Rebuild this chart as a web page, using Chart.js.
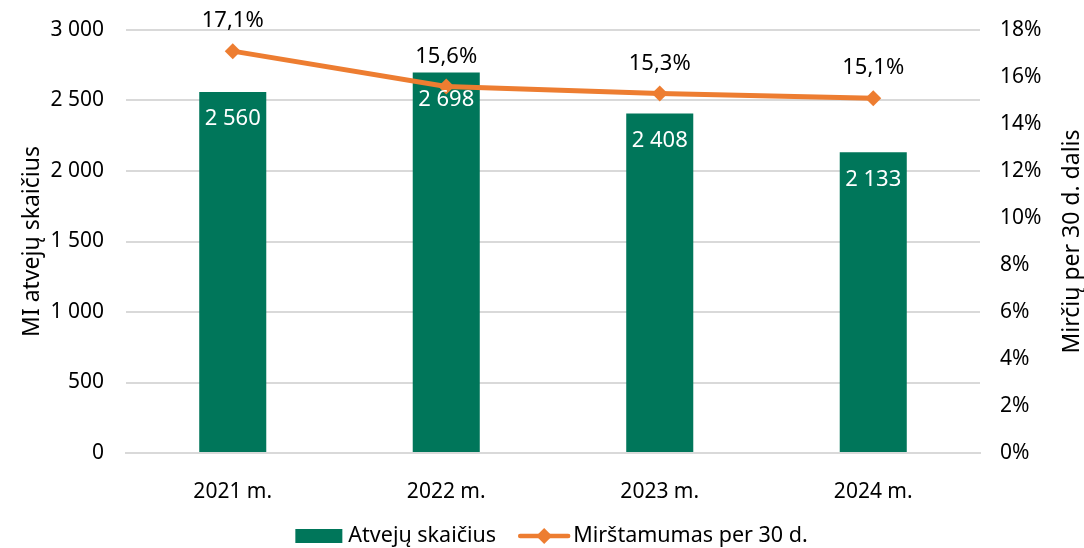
<!DOCTYPE html>
<html>
<head>
<meta charset="utf-8">
<script src="https://cdn.jsdelivr.net/npm/chart.js@4.4.1/dist/chart.umd.min.js"></script>
<style>
  html, body { margin: 0; padding: 0; background: #fff; }
  #wrap { width: 1084px; height: 548px; }
</style>
</head>
<body>
<div id="wrap"><canvas id="chart" width="1084" height="548"></canvas></div>
<script>
// ---- data ----
const YEARS = ['2021 m.', '2022 m.', '2023 m.', '2024 m.'];
const CASES = [2560, 2698, 2408, 2133];
const MORTALITY = [17.1, 15.6, 15.3, 15.1];
const SERIES_NAMES = ['Atvejų skaičius', 'Mirštamumas per 30 d.'];
const AXIS_TITLES = ['MI atvejų skaičius', 'Mirčių per 30 d. dalis'];

const GREEN = '#00765A';
const ORANGE = '#ED7D31';
const FONT = "'Noto Sans', 'Open Sans', sans-serif";

function fmtThousands(v) {
    return String(Math.round(v)).replace(/\B(?=(\d{3})+(?!\d))/g, ' ');
}
function fmtPct(v) {
    return v.toFixed(1).replace('.', ',') + '%';
}

// value labels, axis titles (both read bottom-to-top) and legend
const extras = {
    id: 'extras',
    afterDatasetsDraw(chart) {
        const ctx = chart.ctx;
        const area = chart.chartArea;
        ctx.save();
        ctx.font = '22px ' + FONT;
        ctx.textAlign = 'center';
        ctx.textBaseline = 'middle';
        // bar values: white, inside top
        chart.getDatasetMeta(0).data.forEach((el, i) => {
            ctx.fillStyle = '#ffffff';
            ctx.fillText(fmtThousands(CASES[i]), el.x, el.y + 27);
        });
        // line values: black, above point
        chart.getDatasetMeta(1).data.forEach((el, i) => {
            ctx.fillStyle = '#000000';
            ctx.fillText(fmtPct(MORTALITY[i]), el.x, el.y - 30);
        });

        // axis titles
        const midY = (area.top + area.bottom) / 2;
        ctx.font = '23px ' + FONT;
        ctx.fillStyle = '#000';
        [[32, AXIS_TITLES[0]], [1072, AXIS_TITLES[1]]].forEach(([x, t]) => {
            ctx.save();
            ctx.translate(x, midY);
            ctx.rotate(-Math.PI / 2);
            ctx.fillText(t, 0, 0);
            ctx.restore();
        });

        // legend
        const ly = 536;
        ctx.font = '21.5px ' + FONT;
        ctx.textAlign = 'left';
        const w1 = ctx.measureText(SERIES_NAMES[0]).width;
        const w2 = ctx.measureText(SERIES_NAMES[1]).width;
        const total = 47 + 6 + w1 + 22 + 52 + 4 + w2;
        let x = 552 - total / 2;
        ctx.fillStyle = GREEN;
        ctx.fillRect(x, ly - 7, 47, 14);
        x += 53;
        ctx.fillStyle = '#000';
        ctx.fillText(SERIES_NAMES[0], x, ly);
        x += w1 + 22;
        ctx.strokeStyle = ORANGE;
        ctx.lineWidth = 4.5;
        ctx.lineCap = 'round';
        ctx.beginPath(); ctx.moveTo(x + 2, ly); ctx.lineTo(x + 50, ly); ctx.stroke();
        ctx.fillStyle = ORANGE;
        ctx.beginPath();
        ctx.moveTo(x + 26, ly - 8); ctx.lineTo(x + 34, ly); ctx.lineTo(x + 26, ly + 8); ctx.lineTo(x + 18, ly);
        ctx.closePath(); ctx.fill();
        x += 55;
        ctx.fillStyle = '#000';
        ctx.fillText(SERIES_NAMES[1], x, ly);
        ctx.restore();
    }
};

const ctx = document.getElementById('chart').getContext('2d');
new Chart(ctx, {
    data: {
        labels: YEARS,
        datasets: [
            {
                type: 'bar',
                label: SERIES_NAMES[0],
                data: CASES,
                yAxisID: 'y',
                backgroundColor: GREEN,
                barPercentage: 0.314,
                categoryPercentage: 1.0,
                order: 1
            },
            {
                type: 'line',
                label: SERIES_NAMES[1],
                data: MORTALITY,
                yAxisID: 'y1',
                borderColor: ORANGE,
                backgroundColor: ORANGE,
                borderWidth: 5,
                pointStyle: 'rectRot',
                pointRadius: 8,
                pointBackgroundColor: ORANGE,
                pointBorderColor: ORANGE,
                pointBorderWidth: 0,
                tension: 0,
                order: 0
            }
        ]
    },
    options: {
        responsive: false,
        animation: false,
        devicePixelRatio: 1,
        layout: { padding: { top: 30, right: 0, left: 0, bottom: 0 } },
        scales: {
            x: {
                grid: { display: false },
                border: { color: '#d9d9d9', width: 2 },
                ticks: { color: '#000', font: { family: FONT, size: 21 }, padding: 18 },
                afterFit: s => { s.height = 95; s.paddingLeft = 0; s.paddingRight = 0; }
            },
            y: {
                position: 'left',
                min: 0, max: 3000,
                ticks: {
                    stepSize: 500,
                    color: '#000',
                    font: { family: FONT, size: 21 },
                    padding: 22,
                    callback: v => fmtThousands(v)
                },
                grid: { color: '#d9d9d9', lineWidth: 2, drawTicks: false },
                border: { display: false },
                afterFit: s => { s.width = 126; s.paddingTop = 0; s.paddingBottom = 0; }
            },
            y1: {
                position: 'right',
                min: 0, max: 18,
                ticks: {
                    stepSize: 2,
                    color: '#000',
                    font: { family: FONT, size: 21 },
                    padding: 20,
                    callback: v => v + '%'
                },
                grid: { display: false, drawTicks: false },
                border: { display: false },
                afterFit: s => { s.width = 104; s.paddingTop = 0; s.paddingBottom = 0; }
            }
        },
        plugins: {
            legend: { display: false },
            tooltip: { enabled: false }
        }
    },
    plugins: [extras]
});
</script>
</body>
</html>
